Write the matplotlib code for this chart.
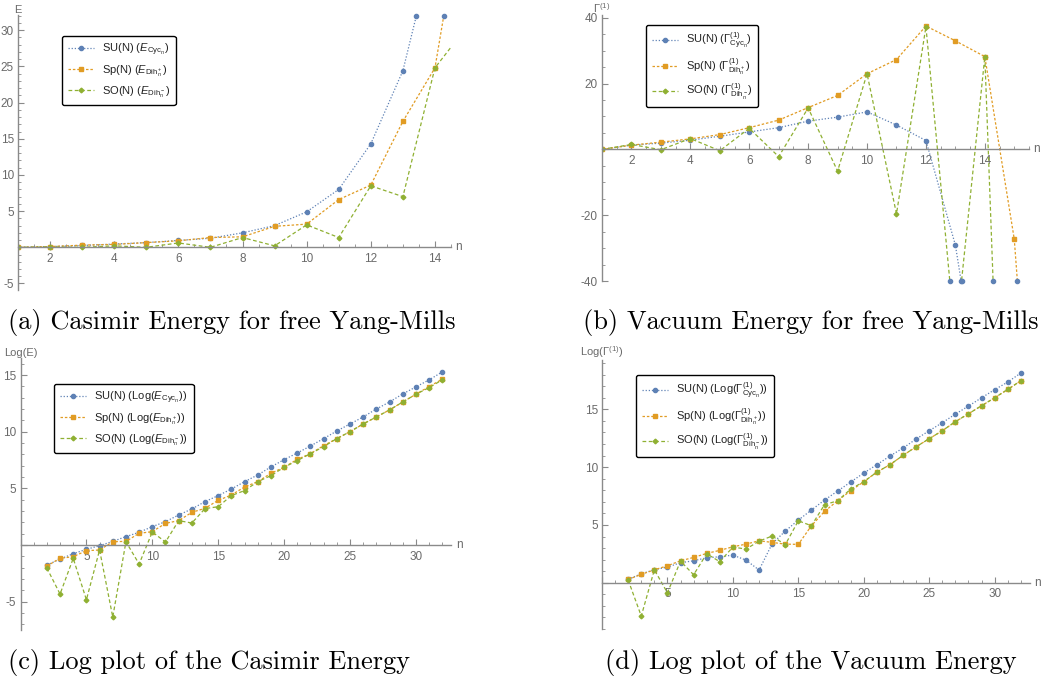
import numpy as np
import matplotlib
matplotlib.use("Agg")
import matplotlib.pyplot as plt
from matplotlib.ticker import MultipleLocator, FuncFormatter

plt.rcParams['font.family'] = ['Liberation Sans', 'DejaVu Sans']
plt.rcParams['mathtext.fontset'] = 'custom'
plt.rcParams['mathtext.rm'] = 'Liberation Sans'
plt.rcParams['mathtext.it'] = 'Liberation Sans:italic'

BLUE = '#5E81B5'
ORANGE = '#E19C24'
GREEN = '#8FB032'
AXC = '#8a8a8a'
TXC = '#6a6a6a'

# (a) Casimir energy, n = 1..15
n_a = np.arange(1, 16)
su_a = [0, 0.1, 0.25, 0.45, 0.65, 0.95, 1.25, 2.0, 3.0, 4.9, 8.0, 14.3, 24.4, 42.5, 78]
sp_a = [0, 0.1, 0.3, 0.4, 0.65, 0.9, 1.35, 1.45, 2.9, 3.2, 6.6, 8.6, 17.4, 24.8, 51]
so_a = [0, 0.05, 0.0, 0.2, 0.0, 0.6, 0.0, 1.35, 0.2, 3.1, 1.35, 8.5, 7.0, 24.8, 30.5]

# (b) vacuum energy, n = 1..16
n_b = np.arange(1, 17)
su_b = [0, 1.3, 1.9, 2.8, 4.0, 5.3, 6.6, 8.6, 9.8, 11.4, 7.4, 2.7, -29.1, -85]
sp_b = [0, 1.3, 2.2, 3.2, 4.5, 6.6, 8.9, 12.7, 16.4, 23.0, 27.3, 37.5, 33.0, 28.2, -27.3, -148]
so_b = [0, 1.5, -0.1, 3.3, -0.4, 6.4, -2.2, 12.6, -6.6, 23.0, -19.6, 37.3, -58, 28.2, -215]

# (c) log of Casimir energy, n = 2..32
n_c = np.arange(2, 33)
su_c = [-1.77, -1.24, -0.77, -0.38, -0.06, 0.32, 0.74, 1.12, 1.62, 2.06, 2.65, 3.18, 3.83,
        4.36, 4.94, 5.59, 6.18, 6.89, 7.53, 8.12, 8.74, 9.39, 10.06, 10.68, 11.3, 12.0,
        12.62, 13.33, 13.95, 14.57, 15.27]
sp_c = [-1.85, -1.18, -1.03, -0.5, -0.44, 0.29, 0.32, 1.03, 1.18, 1.91, 2.15, 2.88, 3.24,
        3.94, 4.41, 5.12, 5.59, 6.33, 6.86, 7.56, 8.06, 8.77, 9.39, 10.0, 10.68, 11.3,
        11.92, 12.62, 13.3, 13.98, 14.63]
so_c = [-2.03, -4.33, -1.18, -4.83, -0.44, -6.36, 0.29, -1.68, 1.15, 0.26, 2.15, 1.94, 3.21,
        3.38, 4.36, 4.8, 5.59, 6.12, 6.86, 7.45, 8.06, 8.68, 9.39, 10.0, 10.68, 11.3,
        11.92, 12.62, 13.3, 13.89, 14.57]

# (d) log of vacuum energy, n = 2..32
n_d = np.arange(2, 33)
su_d = [0.29, 0.78, 1.12, 1.36, 1.73, 1.9, 2.16, 2.25, 2.39, 1.96, 1.1, 3.37, 4.47, 5.42,
        6.29, 7.15, 7.93, 8.71, 9.49, 10.21, 10.96, 11.65, 12.43, 13.15, 13.84, 14.59,
        15.28, 16.0, 16.7, 17.36, 18.14]
sp_d = [0.29, 0.72, 1.12, 1.47, 1.9, 2.19, 2.54, 2.8, 3.11, 3.34, 3.63, 3.49, 3.34, 3.32,
        4.93, 6.17, 7.09, 7.96, 8.74, 9.57, 10.21, 11.02, 11.76, 12.46, 13.15, 13.93,
        14.62, 15.31, 16.0, 16.72, 17.47]
so_d = [0.23, -2.88, 1.12, -0.87, 1.87, 0.69, 2.51, 1.82, 3.09, 2.91, 3.6, 4.04, 3.29, 5.36,
        4.93, 6.75, 7.09, 8.1, 8.74, 9.57, 10.21, 11.02, 11.76, 12.46, 13.15, 13.93,
        14.62, 15.31, 16.0, 16.72, 17.47]

W, H = 1047, 682
fig = plt.figure(figsize=(W / 100, H / 100), dpi=100)


def px_axes(x0, x1, y0, y1):
    # pixel box (top-left origin) -> figure fraction
    return fig.add_axes([x0 / W, 1 - y1 / H, (x1 - x0) / W, (y1 - y0) / H])


def nozero(v, p):
    if abs(v) < 1e-9:
        return ''
    return '%g' % v


def style(ax, xlim, ylim, xmaj, xmin, ymaj, ymin, ylab):
    ax.set_xlim(*xlim)
    ax.set_ylim(*ylim)
    for s in ('top', 'right'):
        ax.spines[s].set_visible(False)
    ax.spines['bottom'].set_position(('data', 0))
    for s in ('bottom', 'left'):
        ax.spines[s].set_color(AXC)
        ax.spines[s].set_linewidth(1.0)
    ax.xaxis.set_major_locator(MultipleLocator(xmaj))
    ax.xaxis.set_minor_locator(MultipleLocator(xmin))
    ax.yaxis.set_major_locator(MultipleLocator(ymaj))
    ax.yaxis.set_minor_locator(MultipleLocator(ymin))
    ax.xaxis.set_major_formatter(FuncFormatter(nozero))
    ax.yaxis.set_major_formatter(FuncFormatter(nozero))
    ax.tick_params(which='both', direction='in', color=AXC, labelcolor=TXC, labelsize=8.5)
    ax.tick_params(which='major', length=4, width=0.8)
    ax.tick_params(which='minor', length=2, width=0.6)
    ax.tick_params(axis='x', pad=4)
    ax.tick_params(axis='y', pad=3)
    ax.patch.set_alpha(0)
    ax.text(0, 1.0, ylab, transform=ax.transAxes, ha='center', va='bottom',
            fontsize=8, color=TXC)
    ax.text(1.01, 0, 'n', transform=ax.get_yaxis_transform(), ha='left', va='center',
            fontsize=8.5, color=TXC)


def edge_marks(ax, x, y, lo, hi):
    # markers where a series leaves the plot range
    xs, ys = [], []
    for i in range(len(y) - 1):
        for b in (lo, hi):
            if (y[i] - b) * (y[i + 1] - b) < 0:
                t = (b - y[i]) / (y[i + 1] - y[i])
                xs.append(x[i] + t * (x[i + 1] - x[i]))
                ys.append(b)
    ax.plot(xs, ys, 'o', ms=3.0, color=BLUE, clip_on=False, zorder=4)


def series(ax, x, ys, labels):
    styles = [(BLUE, 'o', 3.0, (0, (1, 1.5))), (ORANGE, 's', 2.5, (0, (2, 1.5))),
              (GREEN, 'D', 2.4, (0, (3, 2)))]
    for (c, m, ms, ls), y, lab in zip(styles, ys, labels):
        ax.plot(x[:len(y)], y, color=c, marker=m, ms=ms, ls=ls, lw=0.9, label=lab)


def legend(ax, anchor):
    lg = ax.legend(loc='upper left', bbox_to_anchor=anchor, bbox_transform=fig.transFigure,
                   fontsize=8, frameon=True, fancybox=True, handlelength=2.4,
                   labelspacing=0.45, borderpad=0.5, handletextpad=0.7, borderaxespad=0)
    fr = lg.get_frame()
    fr.set_edgecolor('black')
    fr.set_linewidth(1.0)
    fr.set_alpha(1)
    for t in lg.get_texts():
        t.set_color('#222222')


# (a)
ax = px_axes(18, 451, 15, 290)
series(ax, n_a, [su_a, sp_a, so_a],
       [r'SU(N) ($E_{\mathrm{Cyc}_n}$)', r'Sp(N) ($E_{\mathrm{Dih}_n^+}$)',
        r'SO(N) ($E_{\mathrm{Dih}_n^-}$)'])
style(ax, (1, 14.5), (-5.9, 32.1), 2, 0.5, 5, 1, 'E')
for y in (su_a, sp_a, so_a):
    edge_marks(ax, n_a[:len(y)], y, -5.9, 32.0)
legend(ax, (62 / W, 1 - 36 / H))

# (b)
ax = px_axes(602, 1029, 14.5, 281)
series(ax, n_b, [su_b, sp_b, so_b],
       [r'SU(N) ($\Gamma^{(1)}_{\mathrm{Cyc}_n}$)', r'Sp(N) ($\Gamma^{(1)}_{\mathrm{Dih}_n^+}$)',
        r'SO(N) ($\Gamma^{(1)}_{\mathrm{Dih}_n^-}$)'])
style(ax, (1, 15.5), (-40, 41), 2, 0.5, 20, 5, r'$\Gamma^{(1)}$')
for y in (su_b, sp_b, so_b):
    edge_marks(ax, n_b[:len(y)], y, -40, 41)
legend(ax, (646 / W, 1 - 25 / H))

# (c)
ax = px_axes(20.5, 451.5, 358, 630)
series(ax, n_c, [su_c, sp_c, so_c],
       [r'SU(N) (Log($E_{\mathrm{Cyc}_n}$))', r'Sp(N) (Log($E_{\mathrm{Dih}_n^+}$))',
        r'SO(N) (Log($E_{\mathrm{Dih}_n^-}$))'])
style(ax, (0, 32.7), (-7.5, 16.5), 5, 1, 5, 1, 'Log(E)')
legend(ax, (54 / W, 1 - 384 / H))

# (d)
ax = px_axes(602, 1030, 359.6, 629)
series(ax, n_d, [su_d, sp_d, so_d],
       [r'SU(N) (Log($\Gamma^{(1)}_{\mathrm{Cyc}_n}$))',
        r'Sp(N) (Log($\Gamma^{(1)}_{\mathrm{Dih}_n^+}$))',
        r'SO(N) (Log($\Gamma^{(1)}_{\mathrm{Dih}_n^-}$))'])
style(ax, (0, 32.7), (-4.0, 19.3), 5, 1, 5, 1, r'Log($\Gamma^{(1)}$)')
legend(ax, (636 / W, 1 - 375 / H))

# captions
cap = dict(fontfamily='cmr10', fontsize=19, color='black', va='center', ha='left')
fig.text(8 / W, 1 - 322 / H, '(a) Casimir Energy for free Yang-Mills', **cap)
fig.text(583 / W, 1 - 322 / H, '(b) Vacuum Energy for free Yang-Mills', **cap)
fig.text(8 / W, 1 - 662 / H, '(c) Log plot of the Casimir Energy', **cap)
fig.text(605 / W, 1 - 662 / H, '(d) Log plot of the Vacuum Energy', **cap)

fig.savefig('out.png', dpi=100)
